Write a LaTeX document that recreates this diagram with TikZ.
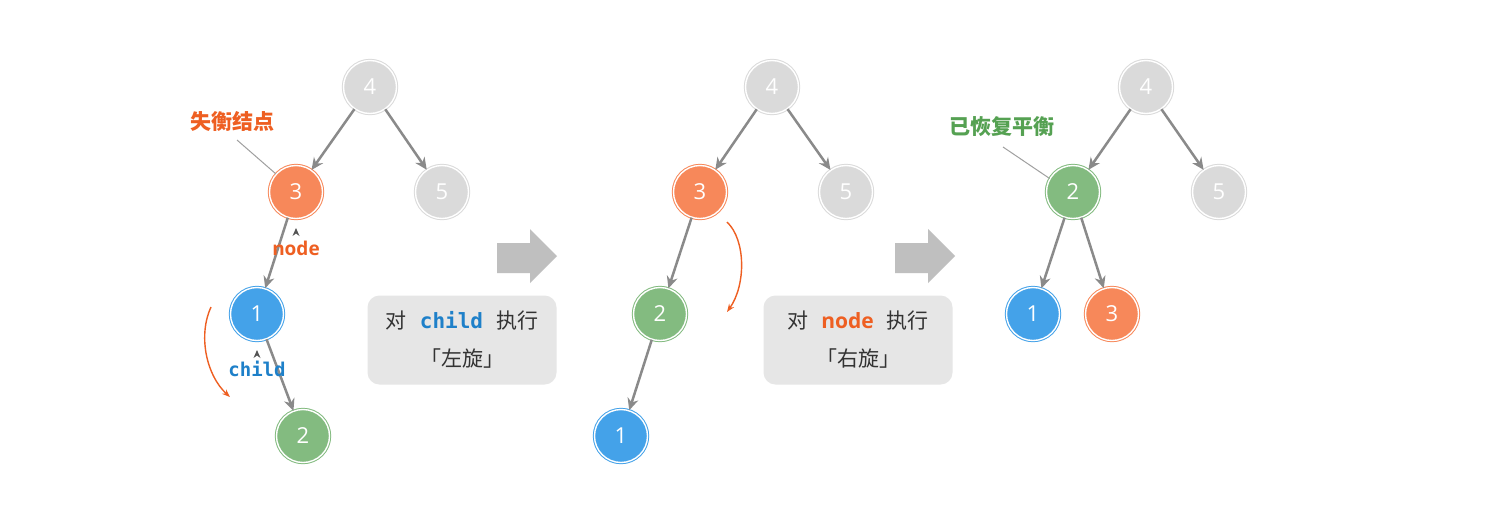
\documentclass[tikz,border=0pt]{standalone}
\usepackage{fontspec}
\setmainfont{Open Sans}
\setmonofont{DejaVu Sans Mono}
\newfontfamily\cjk{Noto Sans CJK SC}
\usetikzlibrary{arrows.meta}
\definecolor{cor}{HTML}{F7885A}
\definecolor{cbl}{HTML}{44A2E9}
\definecolor{cgr}{HTML}{83BB80}
\definecolor{cgy}{HTML}{DADADA}
\definecolor{cedge}{HTML}{8A8A8A}
\definecolor{clead}{HTML}{A0A0A0}
\definecolor{corlab}{HTML}{EE5F22}
\definecolor{cgrlab}{HTML}{55A152}
\definecolor{cbllab}{HTML}{1E80C9}
\definecolor{cbox}{HTML}{E6E6E6}
\definecolor{cblk}{HTML}{BFBFBF}
\definecolor{ctxt}{HTML}{333333}
\definecolor{ccaret}{HTML}{555555}
\begin{document}
\begin{tikzpicture}[x=0.5pt,y=-0.5pt,
  tn/.style={circle, inner sep=0pt, minimum size=26.5pt, line width=0.5pt,
    double=white, double distance=0.7pt, text=white,
    font=\fontsize{11}{12}\selectfont},
  orn/.style={tn, draw=cor, fill=cor},
  bln/.style={tn, draw=cbl, fill=cbl},
  grn/.style={tn, draw=cgr, fill=cgr},
  gyn/.style={tn, draw=cgy, fill=cgy},
  edge/.style={draw=cedge, line width=1.25pt, -{Stealth[length=6pt,width=5.5pt]}},
  leader/.style={draw=clead, line width=0.5pt},
  rot/.style={draw=corlab, line width=0.7pt, -{Stealth[length=4pt,width=3pt]}},
  opbox/.style={rounded corners=6pt, fill=cbox, minimum width=94.5pt, minimum height=44.5pt,
    align=center, text=ctxt, font=\fontsize{10.5}{19}\selectfont},
  cjklab/.style={font=\cjk\bfseries\fontsize{10.5}{12}\selectfont},
  blk/.style={fill=cblk},
  caret/.style={fill=ccaret}
]
\useasboundingbox[fill=white] (0,0) rectangle (1497,521);

% ---------- Tree 1 ----------
\node[gyn] (a4) at (370,87) {4};
\node[orn] (a3) at (296,192) {3};
\node[gyn] (a5) at (442,192) {5};
\node[bln] (a1) at (257,314) {1};
\node[grn] (a2) at (303,436) {2};
\draw[edge] (a4) -- (a3);
\draw[edge] (a4) -- (a5);
\draw[edge] (a3) -- (a1);
\draw[edge] (a1) -- (a2);

\node[cjklab, text=corlab] (l1) at (232,121) {失衡结点};
\coordinate (l1s) at (237,140);
\draw[leader] (l1s) -- (a3.138);

\fill[caret] (292.5,236) -- (296,228) -- (299.5,236) -- (296,233.5) -- cycle;
\node[font=\bfseries\fontsize{9.5}{11}\selectfont, text=corlab] (lnode) at (296,248) {node};
\fill[caret] (253.5,358) -- (257,350) -- (260.5,358) -- (257,355.5) -- cycle;
\node[font=\ttfamily\bfseries\fontsize{9.5}{11}\selectfont, text=cbllab] (lchild) at (257,369) {child};

\coordinate (r1a) at (211,307);
\coordinate (r1b) at (230,397);
\draw[rot] (r1a) .. controls (198,335) and (206,375) .. (r1b);

% ---------- Arrow 1 and box 1 ----------
\fill[blk] (497,243) -- (530,243) -- (530,229) -- (557,256) -- (530,283) -- (530,273) -- (497,273) -- cycle;
\node[opbox] (b1) at (462,340) {{\cjk 对}\hspace{6.5pt}{\ttfamily\bfseries\color{cbllab}child}\hspace{6.5pt}{\cjk 执行}\\{\cjk 「左旋」}};

% ---------- Tree 2 ----------
\node[gyn] (b4) at (772,87) {4};
\node[orn] (b3) at (700,192) {3};
\node[gyn] (b5) at (846,192) {5};
\node[grn] (b2) at (660,314) {2};
\node[bln] (b1n) at (621,436) {1};
\draw[edge] (b4) -- (b3);
\draw[edge] (b4) -- (b5);
\draw[edge] (b3) -- (b2);
\draw[edge] (b2) -- (b1n);

\coordinate (r2a) at (727,222);
\coordinate (r2b) at (727,312);
\draw[rot] (r2a) .. controls (746,240) and (746,285) .. (r2b);

% ---------- Arrow 2 and box 2 ----------
\fill[blk] (895,243) -- (928,243) -- (928,229) -- (955,256) -- (928,283) -- (928,273) -- (895,273) -- cycle;
\node[opbox] (b2box) at (858,340) {{\cjk 对}\hspace{6.5pt}{\bfseries\color{corlab}node}\hspace{6.5pt}{\cjk 执行}\\{\cjk 「右旋」}};

% ---------- Tree 3 ----------
\node[gyn] (c4) at (1146,87) {4};
\node[grn] (c2) at (1073,192) {2};
\node[gyn] (c5) at (1219,192) {5};
\node[bln] (c1) at (1033,314) {1};
\node[orn] (c3) at (1112,314) {3};
\draw[edge] (c4) -- (c2);
\draw[edge] (c4) -- (c5);
\draw[edge] (c2) -- (c1);
\draw[edge] (c2) -- (c3);

\node[cjklab, text=cgrlab] (l3) at (1002,127) {已恢复平衡};
\coordinate (l3s) at (1003,147);
\draw[leader] (l3s) -- (c2.150);
\end{tikzpicture}
\end{document}
